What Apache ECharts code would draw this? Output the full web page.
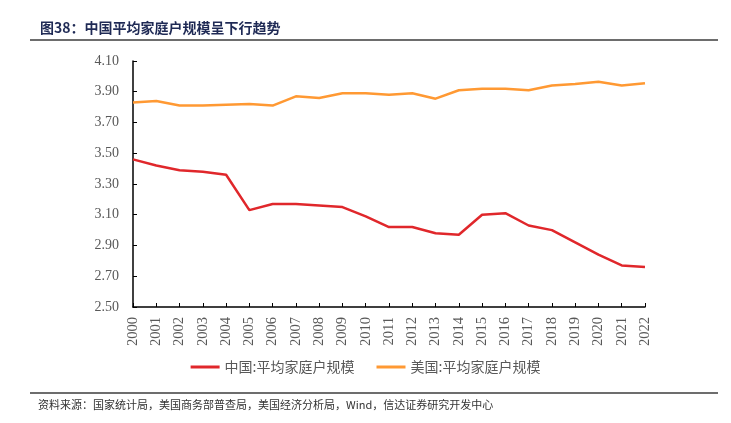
<!DOCTYPE html>
<html><head><meta charset="utf-8">
<script src="https://cdn.jsdelivr.net/npm/echarts@6/dist/echarts.min.js"></script>
<style>html,body{margin:0;padding:0;background:#fff;}#c{width:731px;height:423px;}</style>
</head><body><div id="c"></div>
<script>
var years = ['2000','2001','2002','2003','2004','2005','2006','2007','2008','2009','2010','2011','2012','2013','2014','2015','2016','2017','2018','2019','2020','2021','2022'];
var china = [3.46,3.42,3.39,3.38,3.36,3.13,3.17,3.17,3.16,3.15,3.09,3.02,3.02,2.98,2.97,3.10,3.11,3.03,3.00,2.92,2.84,2.77,2.76];
var usa = [3.83,3.84,3.81,3.81,3.815,3.82,3.81,3.87,3.86,3.89,3.89,3.88,3.89,3.855,3.91,3.92,3.92,3.91,3.94,3.95,3.965,3.94,3.955];
var seriesNames = ['中国:平均家庭户规模','美国:平均家庭户规模'];
var title = '图38：中国平均家庭户规模呈下行趋势';
var source = '资料来源：国家统计局，美国商务部普查局，美国经济分析局，Wind，信达证券研究开发中心';

var chart = echarts.init(document.getElementById('c'));
var serif = '"Liberation Serif","DejaVu Serif","Noto Sans CJK SC",serif';
chart.setOption({
  animation: false,
  graphic: [
    {type:'text', left:40, top:21, style:{text:title, font:'bold 14px "Noto Sans CJK SC"', fill:'#1f2a55'}},
    {type:'rect', shape:{x:30,y:39,width:688,height:2}, style:{fill:'#6d6d6d'}},
    {type:'rect', shape:{x:30,y:392,width:688,height:2}, style:{fill:'#6d6d6d'}},
    {type:'text', left:38, top:399, style:{text:source, font:'11px "Noto Sans CJK SC"', fill:'#333'}}
  ],
  grid: {left:133, right:86, top:61, bottom:116},
  legend: {
    bottom: 44, left: 'center', itemWidth: 29, itemHeight: 3, itemGap: 22,
    icon: 'rect',
    textStyle: {fontFamily:'"Noto Sans CJK SC"', fontSize:14, color:'#595959'},
    data: seriesNames
  },
  xAxis: {
    type:'category', data: years, boundaryGap:false,
    axisLine:{lineStyle:{color:'#000', width:1.5}},
    axisTick:{inside:true, alignWithLabel:true, length:4, lineStyle:{color:'#000'}},
    axisLabel:{rotate:90, fontFamily:serif, fontSize:14.5, color:'#595959', margin:10}
  },
  yAxis: {
    type:'value', min:2.5, max:4.1, interval:0.2,
    axisLine:{show:true, lineStyle:{color:'#000', width:1.5}},
    axisTick:{show:true, inside:true, length:4, lineStyle:{color:'#000'}},
    splitLine:{show:false},
    axisLabel:{fontFamily:serif, fontSize:14, color:'#595959', margin:14, formatter:function(v){return v.toFixed(2);}}
  },
  series: [
    {name:seriesNames[0], type:'line', data:china, symbol:'none', lineStyle:{color:'#e0272b', width:2.5}, itemStyle:{color:'#e0272b'}},
    {name:seriesNames[1], type:'line', data:usa, symbol:'none', lineStyle:{color:'#ff9933', width:2.5}, itemStyle:{color:'#ff9933'}}
  ]
});
</script></body></html>
